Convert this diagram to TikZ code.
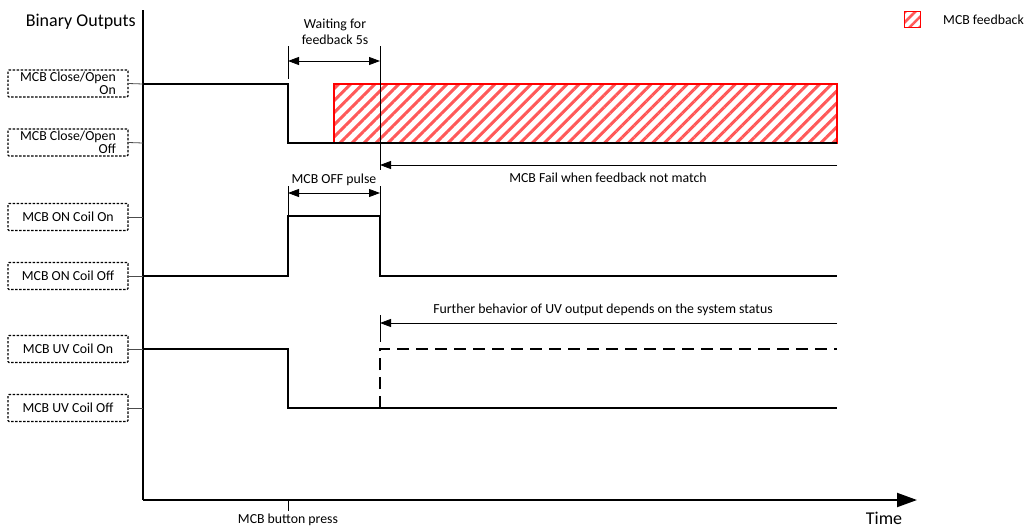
\documentclass[tikz,border=0pt]{standalone}
\usepackage{fontspec}
\setmainfont{Carlito}
\usetikzlibrary{arrows.meta,patterns.meta}
\begin{document}
\begin{tikzpicture}[x=1pt,y=-1pt,
  lbl/.style={draw,line width=1.3pt,dash pattern=on 2.4pt off 1.6pt,rounded corners=1pt,minimum width=120pt,minimum height=27pt,inner sep=1.5pt,font=\fontsize{13.8}{13.5}\selectfont,align=right},
  sig/.style={line width=2pt},
  conn/.style={line width=0.8pt,draw=black!70},
  dim/.style={line width=0.8pt},
  tip/.style={-{Triangle[length=11pt,width=8pt]}},
  dtip/.style={{Triangle[length=11pt,width=8pt]}-{Triangle[length=11pt,width=8pt]}},
  txt/.style={font=\fontsize{13.8}{16}\selectfont,inner sep=0pt},
  hatch/.style={draw=red,line width=1.2pt,pattern={Lines[angle=45,distance=8.5pt,line width=3pt]},pattern color=red!65}
]
\useasboundingbox (0,0) rectangle (1027,531);
% axes
\coordinate (ytop) at (143,10);
\coordinate (orig) at (143,500);
\coordinate (xend) at (917,500);
\draw[line width=2pt] (ytop) -- (orig);
\draw[line width=2pt,-{Triangle[length=20pt,width=14pt]}] (orig) -- (xend);
\node[font=\fontsize{18}{20}\selectfont,anchor=east,inner sep=0pt] (bo) at (136,22) {Binary Outputs};
\node[font=\fontsize{18}{20}\selectfont,inner sep=0pt] (time) at (884,518) {Time};
\coordinate (bp) at (288,500);
\coordinate (bpt) at (288,511);
\draw[line width=1pt] (bp) -- (bpt);
\node[txt,anchor=north] (bpl) at (288,514) {MCB button press};
% label boxes
\node[lbl] (b1) at (68,83.5) {MCB Close/Open\\On};
\node[lbl] (b2) at (68,142.5) {MCB Close/Open\\Off};
\node[lbl] (b3) at (68,217) {MCB ON Coil On};
\node[lbl] (b4) at (68,276) {MCB ON Coil Off};
\node[lbl] (b5) at (68,349) {MCB UV Coil On};
\node[lbl] (b6) at (68,408) {MCB UV Coil Off};
\foreach \b/\y in {b1/84,b2/143,b3/217,b4/276,b5/349,b6/408}{
  \coordinate (a\b) at (143,\y);
  \draw[conn] (\b.east) -- (a\b);
}
% hatched feedback region
\coordinate (h1) at (334,84);
\coordinate (h2) at (837,143);
\path[hatch] (h1) rectangle (h2);
% signals
\coordinate (t0) at (288,84);
\coordinate (t1) at (288,143);
\coordinate (t2) at (837,143);
\draw[sig] (ab1) -- (t0) -- (t1) -- (t2);
\coordinate (o0) at (288,276);
\coordinate (o1) at (288,216);
\coordinate (o2) at (380,216);
\coordinate (o3) at (380,276);
\coordinate (o4) at (837,276);
\draw[sig] (ab4) -- (o0) -- (o1) -- (o2) -- (o3) -- (o4);
\coordinate (u0) at (288,349);
\coordinate (u1) at (288,408);
\coordinate (u2) at (837,408);
\draw[sig] (ab5) -- (u0) -- (u1) -- (u2);
\coordinate (d0) at (380,408);
\coordinate (d1) at (380,349);
\coordinate (d2) at (837,349);
\draw[sig,dash pattern=on 12pt off 7pt] (d0) -- (d1) -- (d2);
% waiting for feedback
\coordinate (w1) at (288,46);
\coordinate (w2) at (288,79);
\coordinate (w3) at (380,46);
\coordinate (w4) at (380,170);
\draw[dim] (w1) -- (w2);
\draw[dim] (w3) -- (w4);
\coordinate (wa) at (288,61);
\coordinate (wb) at (380,61);
\draw[dim,dtip] (wa) -- (wb);
\node[txt,align=center] (wt) at (335,32) {Waiting for\\feedback 5s};
% MCB fail
\coordinate (fa) at (837,165);
\coordinate (fb) at (380,165);
\draw[dim,tip] (fa) -- (fb);
\node[txt] (ft) at (608,178) {MCB Fail when feedback not match};
% MCB OFF pulse
\coordinate (p1) at (288,186);
\coordinate (p2) at (380,186);
\draw[dim] (p1) -- (o1);
\draw[dim] (p2) -- (o2);
\coordinate (pa) at (288,193);
\coordinate (pb) at (380,193);
\draw[dim,dtip] (pa) -- (pb);
\node[txt] (pt) at (334,180) {MCB OFF pulse};
% further behavior
\coordinate (fu1) at (380,315);
\coordinate (fu2) at (380,342);
\draw[dim] (fu1) -- (fu2);
\coordinate (ua) at (837,323);
\coordinate (ub) at (380,323);
\draw[dim,tip] (ua) -- (ub);
\node[txt] (ut) at (603,310) {Further behavior of UV output depends on the system status};
% legend
\coordinate (l1) at (904,11);
\coordinate (l2) at (920,27);
\path[hatch,line width=1pt,pattern={Lines[angle=45,distance=7pt,line width=2.5pt]}] (l1) rectangle (l2);
\node[txt,anchor=west] (lt) at (943,20) {MCB feedback};
\end{tikzpicture}
\end{document}
